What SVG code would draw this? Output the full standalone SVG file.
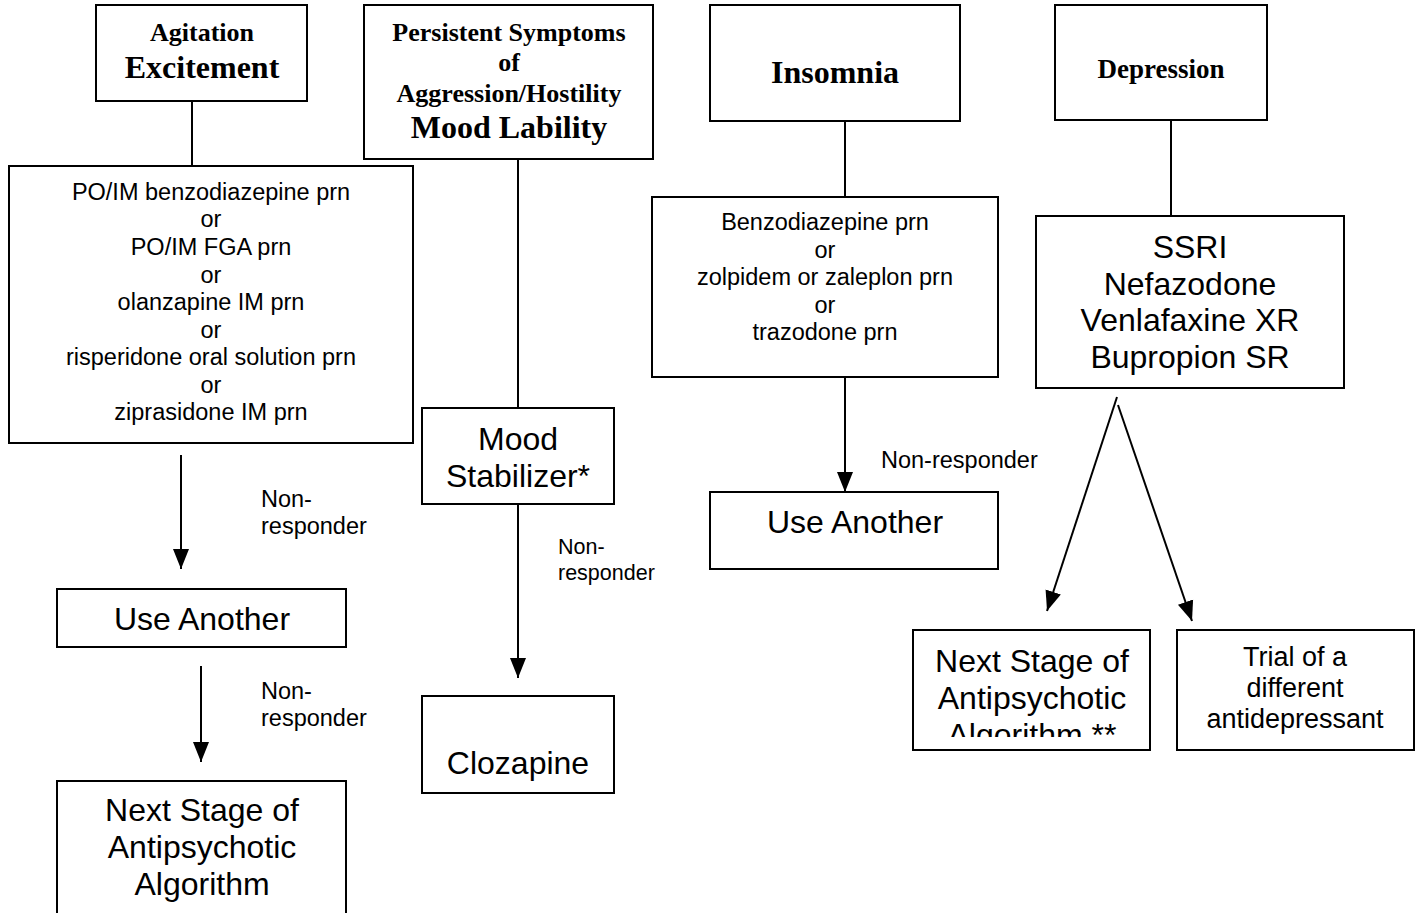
<svg xmlns="http://www.w3.org/2000/svg" width="1422" height="913" viewBox="0 0 1422 913">
<style>
.box{fill:#fff;stroke:#000;stroke-width:2}
.ln{stroke:#000;stroke-width:2;fill:none}
.hd{font-family:"Liberation Serif",serif;font-weight:bold;text-anchor:middle;fill:#000}
.t{font-family:"Liberation Sans",Arial,sans-serif;text-anchor:middle;fill:#000}
.lb{font-family:"Liberation Sans",Arial,sans-serif;fill:#000}
.s{font-size:23.5px}
.b{font-size:32px}
</style>
<defs>
<marker id="ah" markerUnits="userSpaceOnUse" markerWidth="20" markerHeight="20" viewBox="0 0 20 16" refX="20" refY="8" orient="auto">
<path d="M0,0 L20,8 L0,16 Z" fill="#000"/>
</marker>
<clipPath id="clipNS"><rect x="913" y="630" width="237" height="107"/></clipPath>
</defs>
<rect width="1422" height="913" fill="#fff"/>
<g id="connectors">
<line class="ln" x1="192" y1="101" x2="192" y2="166"/>
<line class="ln" x1="181" y1="455" x2="181" y2="569" marker-end="url(#ah)"/>
<line class="ln" x1="201" y1="666" x2="201" y2="762" marker-end="url(#ah)"/>
<line class="ln" x1="518" y1="159" x2="518" y2="408"/>
<line class="ln" x1="518" y1="504" x2="518" y2="678" marker-end="url(#ah)"/>
<line class="ln" x1="845" y1="121" x2="845" y2="197"/>
<line class="ln" x1="845" y1="377" x2="845" y2="492" marker-end="url(#ah)"/>
<line class="ln" x1="1171" y1="120" x2="1171" y2="216"/>
<line class="ln" x1="1117" y1="397" x2="1047" y2="611" marker-end="url(#ah)"/>
<line class="ln" x1="1118" y1="405" x2="1192" y2="621" marker-end="url(#ah)"/>
<text class="lb s" x="261" y="507">Non-</text>
<text class="lb s" x="261" y="534">responder</text>
<text class="lb s" x="261" y="699">Non-</text>
<text class="lb s" x="261" y="726">responder</text>
<text class="lb" x="558" y="554" font-size="21.5">Non-</text>
<text class="lb" x="558" y="580" font-size="21.5">responder</text>
<text class="lb s" x="881" y="468">Non-responder</text>
</g>
<g id="agitation">
<rect class="box" x="96" y="5" width="211" height="96"/>
<text class="hd" x="202" y="41" font-size="26">Agitation</text>
<text class="hd" x="202" y="78" font-size="32">Excitement</text>
</g>
<g id="agitation-tx">
<rect class="box" x="9" y="166" width="404" height="277"/>
<text class="t s" x="211" y="200">PO/IM benzodiazepine prn</text>
<text class="t s" x="211" y="227">or</text>
<text class="t s" x="211" y="255">PO/IM FGA prn</text>
<text class="t s" x="211" y="283">or</text>
<text class="t s" x="211" y="310">olanzapine IM prn</text>
<text class="t s" x="211" y="338">or</text>
<text class="t s" x="211" y="365">risperidone oral solution prn</text>
<text class="t s" x="211" y="393">or</text>
<text class="t s" x="211" y="420">ziprasidone IM prn</text>
</g>
<g id="use-another-1">
<rect class="box" x="57" y="589" width="289" height="58"/>
<text class="t b" x="202" y="630">Use Another</text>
</g>
<g id="next-stage-1">
<rect class="box" x="57" y="781" width="289" height="150"/>
<text class="t b" x="202" y="821">Next Stage of</text>
<text class="t b" x="202" y="858">Antipsychotic</text>
<text class="t b" x="202" y="895">Algorithm</text>
</g>
<g id="persistent">
<rect class="box" x="364" y="5" width="289" height="154"/>
<text class="hd" x="509" y="41" font-size="26">Persistent Symptoms</text>
<text class="hd" x="509" y="71" font-size="26">of</text>
<text class="hd" x="509" y="102" font-size="26">Aggression/Hostility</text>
<text class="hd" x="509" y="138" font-size="32">Mood Lability</text>
</g>
<g id="mood-stabilizer">
<rect class="box" x="422" y="408" width="192" height="96"/>
<text class="t b" x="518" y="450">Mood</text>
<text class="t b" x="518" y="487">Stabilizer*</text>
</g>
<g id="clozapine">
<rect class="box" x="422" y="696" width="192" height="97"/>
<text class="t b" x="518" y="774">Clozapine</text>
</g>
<g id="insomnia">
<rect class="box" x="710" y="5" width="250" height="116"/>
<text class="hd" x="835" y="83" font-size="32">Insomnia</text>
</g>
<g id="insomnia-tx">
<rect class="box" x="652" y="197" width="346" height="180"/>
<text class="t s" x="825" y="230">Benzodiazepine prn</text>
<text class="t s" x="825" y="258">or</text>
<text class="t s" x="825" y="285">zolpidem or zaleplon prn</text>
<text class="t s" x="825" y="313">or</text>
<text class="t s" x="825" y="340">trazodone prn</text>
</g>
<g id="use-another-2">
<rect class="box" x="710" y="492" width="288" height="77"/>
<text class="t b" x="855" y="533">Use Another</text>
</g>
<g id="depression">
<rect class="box" x="1055" y="5" width="212" height="115"/>
<text class="hd" x="1161" y="78" font-size="27">Depression</text>
</g>
<g id="depression-tx">
<rect class="box" x="1036" y="216" width="308" height="172"/>
<text class="t b" x="1190" y="258">SSRI</text>
<text class="t b" x="1190" y="295">Nefazodone</text>
<text class="t b" x="1190" y="331">Venlafaxine XR</text>
<text class="t b" x="1190" y="368">Bupropion SR</text>
</g>
<g id="next-stage-2">
<rect class="box" x="913" y="630" width="237" height="120"/>
<g clip-path="url(#clipNS)">
<text class="t b" x="1032" y="672">Next Stage of</text>
<text class="t b" x="1032" y="709">Antipsychotic</text>
<text class="t b" x="1032" y="746">Algorithm **</text>
</g>
</g>
<g id="trial">
<rect class="box" x="1177" y="630" width="237" height="120"/>
<text class="t" x="1295" y="666" font-size="27">Trial of a</text>
<text class="t" x="1295" y="697" font-size="27">different</text>
<text class="t" x="1295" y="728" font-size="27">antidepressant</text>
</g>
</svg>
